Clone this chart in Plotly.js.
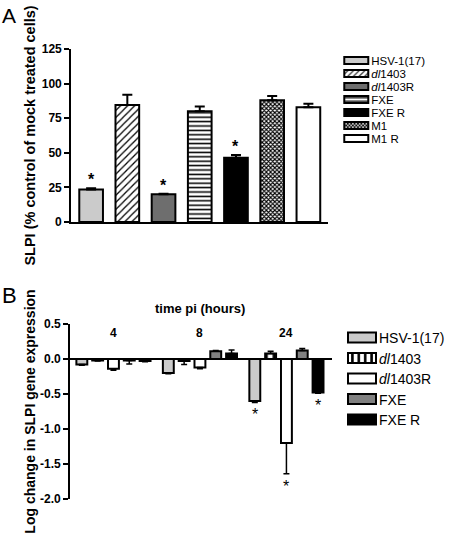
<!DOCTYPE html>
<html><head><meta charset="utf-8">
<script src="https://cdn.plot.ly/plotly-3.0.1.min.js"></script>
<style>html,body{margin:0;padding:0;background:#fff}</style>
</head><body><div id="chart" style="width:450px;height:538px"></div>
<script>
// ---------- Panel A data ----------
const seriesA = ['HSV-1(17)', '<i>dl</i>1403', '<i>dl</i>1403R', 'FXE', 'FXE R', 'M1', 'M1 R'];
const valuesA = [23.5, 84.5, 20, 80, 46.5, 88, 83];
const errorsA = [0.8, 7.5, 0.5, 3.5, 2, 3, 2.5];
const sigA = [true, false, true, false, true, false, false];
const tickValsA = [0, 25, 50, 75, 100, 125];

// ---------- Panel B data ----------
const timesB = ['4', '8', '24'];
const seriesB = ['HSV-1(17)', '<i>dl</i>1403', '<i>dl</i>1403R', 'FXE', 'FXE R'];
const hsvB = [-0.08, -0.20, -0.60];
const dl1403B = [-0.02, -0.03, 0.08];
const dl1403RB = [-0.14, -0.12, -1.20];
const fxeB = [-0.02, 0.11, 0.12];
const fxeRB = [-0.03, 0.08, -0.48];
const hsvErrB = [0.01, 0.01, 0.02];
const dl1403ErrB = [0.01, 0.05, 0.03];
const dl1403RErrB = [0.02, 0.02, 0.44];
const fxeErrB = [0.05, 0.01, 0.03];
const fxeRErrB = [0.01, 0.05, 0.01];
const hsvSigB = [false, false, true];
const dl1403SigB = [false, false, false];
const dl1403RSigB = [false, false, true];
const fxeSigB = [false, false, false];
const fxeRSigB = [false, false, true];
const tickValsB = [-2.0, -1.5, -1.0, -0.5, 0.0, 0.5];
const tickTextB = ['-2.0', '-1.5', '-1.0', '-0.5', '0.0', '0.5'];

const valuesB = [hsvB, dl1403B, dl1403RB, fxeB, fxeRB];
const errorsB = [hsvErrB, dl1403ErrB, dl1403RErrB, fxeErrB, fxeRErrB];
const sigB = [hsvSigB, dl1403SigB, dl1403RSigB, fxeSigB, fxeRSigB];

// ---------- styles ----------
const FONT = 'Liberation Sans, Arial, sans-serif';
const stylesA = [
  {color: '#cbcbcb'},
  {color: '#ffffff', pattern: {shape: '/', fgcolor: '#000', size: 5, solidity: 0.25}},
  {color: '#6e6e6e'},
  {color: '#ffffff', pattern: {shape: '-', fgcolor: '#000', size: 4.4, solidity: 0.35}},
  {color: '#000000'},
  {color: '#ffffff', pattern: {shape: 'x', fgcolor: '#000', size: 3, solidity: 0.6}},
  {color: '#ffffff'}
];
const stylesB = [
  {color: '#cbcbcb'},
  {color: '#ffffff', pattern: {shape: '|', fgcolor: '#000', size: 8, solidity: 0.4}},
  {color: '#ffffff'},
  {color: '#808080'},
  {color: '#000000'}
];

const BARGAP = 0.086;
const data = [];
seriesA.forEach((name, i) => {
  const m = {color: stylesA[i].color, line: {color: '#000', width: 2}};
  if (stylesA[i].pattern) m.pattern = stylesA[i].pattern;
  data.push({
    type: 'bar', name: name, x: [name], y: [valuesA[i]],
    width: 0.654, offset: -0.327, offsetgroup: 'A',
    xaxis: 'x', yaxis: 'y', legend: 'legend', marker: m,
    error_y: {type: 'data', symmetric: false, array: [errorsA[i]], arrayminus: [0], color: '#000', thickness: 2, width: 5}
  });
});
seriesB.forEach((name, k) => {
  const m = {color: stylesB[k].color, line: {color: '#000', width: 2}};
  if (stylesB[k].pattern) m.pattern = stylesB[k].pattern;
  const v = valuesB[k], e = errorsB[k];
  data.push({
    type: 'bar', name: name, x: timesB, y: v, offsetgroup: 'B' + k,
    xaxis: 'x2', yaxis: 'y2', legend: 'legend2', marker: m,
    error_y: {type: 'data', symmetric: false,
      array: v.map((val, j) => val >= 0 ? e[j] : 0),
      arrayminus: v.map((val, j) => val < 0 ? e[j] : 0),
      color: '#000', thickness: 1.5, width: 3}
  });
});

const annotations = [];
// Panel A asterisks
seriesA.forEach((name, i) => {
  if (sigA[i]) annotations.push({xref: 'x', yref: 'y', x: name, y: valuesA[i] + errorsA[i],
    text: '*', showarrow: false, yanchor: 'bottom', yshift: -2,
    font: {family: FONT, size: 16, color: '#000', weight: 'bold'}});
});
// Panel B asterisks (below bar/error tip)
const slot = (1 - BARGAP) / seriesB.length;
seriesB.forEach((name, k) => {
  timesB.forEach((t, j) => {
    if (sigB[k][j]) annotations.push({xref: 'x2', yref: 'y2',
      x: j + (k - (seriesB.length - 1) / 2) * slot, y: valuesB[k][j] - errorsB[k][j],
      text: '*', showarrow: false, yanchor: 'top', yshift: -2,
      font: {family: FONT, size: 16, color: '#000'}});
  });
});
// time labels
timesB.forEach((t, j) => annotations.push({xref: 'x2', yref: 'y2', x: j, y: 0.37, text: '<b>' + t + '</b>',
  showarrow: false, yanchor: 'middle', font: {family: FONT, size: 12, color: '#000'}}));
annotations.push({xref: 'x2', yref: 'paper', x: 1, y: 1 - 308 / 538, text: '<b>time pi (hours)</b>',
  showarrow: false, yanchor: 'middle', font: {family: FONT, size: 13, color: '#000'}});
// panel letters
annotations.push({xref: 'paper', yref: 'paper', x: 0, y: 1 - 2 / 538, xanchor: 'left', yanchor: 'top',
  text: 'A', showarrow: false, font: {family: FONT, size: 21, color: '#000'}});
annotations.push({xref: 'paper', yref: 'paper', x: 0, y: 1 - 281 / 538, xanchor: 'left', yanchor: 'top',
  text: 'B', showarrow: false, font: {family: FONT, size: 22, color: '#000'}});

const tickFont = {family: FONT, size: 12, color: '#000', weight: 'bold'};
const layout = {
  width: 450, height: 538,
  margin: {l: 0, r: 0, t: 0, b: 0},
  paper_bgcolor: '#fff', plot_bgcolor: '#fff',
  barmode: 'group', bargap: BARGAP, bargroupgap: 0.31,
  font: {family: FONT, color: '#000'},
  xaxis: {domain: [72 / 450, 332 / 450], anchor: 'y', type: 'category', range: [-0.55, 6.55],
    showline: true, linewidth: 2, linecolor: '#000', ticks: '', showticklabels: false, showgrid: false, zeroline: false},
  yaxis: {domain: [1 - 222 / 538, 1 - 49 / 538], anchor: 'x', range: [0, 125], tickvals: tickValsA,
    showline: true, linewidth: 2, linecolor: '#000', ticks: 'outside', ticklen: 5, tickwidth: 2, tickcolor: '#000',
    showgrid: false, zeroline: false, tickfont: tickFont,
    title: {text: '<b>SLPI (% control of mock treated cells)</b>', font: {family: FONT, size: 14.5, color: '#000'}, standoff: 3}},
  xaxis2: {domain: [71 / 450, 336 / 450], anchor: 'y2', type: 'category', range: [-0.5, 2.53],
    showline: false, ticks: '', showticklabels: false, showgrid: false, zeroline: false},
  yaxis2: {domain: [1 - 499 / 538, 1 - 324 / 538], anchor: 'x2', range: [-2.0, 0.5],
    tickvals: tickValsB, ticktext: tickTextB,
    showline: true, linewidth: 2, linecolor: '#000', ticks: 'outside', ticklen: 5, tickwidth: 2, tickcolor: '#000',
    showgrid: false, zeroline: true, zerolinewidth: 2, zerolinecolor: '#000', tickfont: tickFont,
    title: {text: '<b>Log change in SLPI gene expression</b>', font: {family: FONT, size: 14, color: '#000'}, standoff: 1}},
  legend: {x: 335 / 450, xanchor: 'left', y: 1 - 46 / 538, yanchor: 'top', bgcolor: 'rgba(0,0,0,0)',
    font: {family: FONT, size: 11.5, color: '#000'}, tracegroupgap: 0},
  legend2: {x: 343 / 450, xanchor: 'left', y: 1 - 322 / 538, yanchor: 'top', bgcolor: 'rgba(0,0,0,0)',
    font: {family: FONT, size: 14, color: '#000'}, tracegroupgap: 0},
  annotations: annotations,
  showlegend: true
};

function fixLegend(gd, cls, spacing, w, h, gap) {
  const leg = gd.querySelector('g.' + cls);
  if (!leg) return;
  const items = leg.querySelectorAll('g.traces');
  let y0 = null;
  items.forEach((it, i) => {
    const tr = it.getAttribute('transform') || '';
    const m = tr.match(/translate\(([-\d.]+),\s*([-\d.]+)\)/);
    if (!m) return;
    if (y0 === null) y0 = parseFloat(m[2]);
    it.setAttribute('transform', 'translate(' + m[1] + ',' + (y0 + i * spacing) + ')');
    const txt = it.querySelector('text.legendtext');
    const tx = txt ? parseFloat(txt.getAttribute('x')) || 40 : 40;
    it.querySelectorAll('g.legendpoints path').forEach(p => {
      p.setAttribute('d', 'M' + (w / 2) + ',' + (h / 2) + 'H' + (-w / 2) + 'V' + (-h / 2) + 'H' + (w / 2) + 'Z');
      p.setAttribute('transform', 'translate(' + (tx - gap - w / 2) + ',0)');
      p.style.strokeWidth = '2px';
    });
  });
}

Plotly.newPlot('chart', data, layout, {staticPlot: true}).then(gd => {
  fixLegend(gd, 'legend', 13, 24, 7, 3);
  fixLegend(gd, 'legend2', 20.5, 28, 10, 3);
});
</script></body></html>
